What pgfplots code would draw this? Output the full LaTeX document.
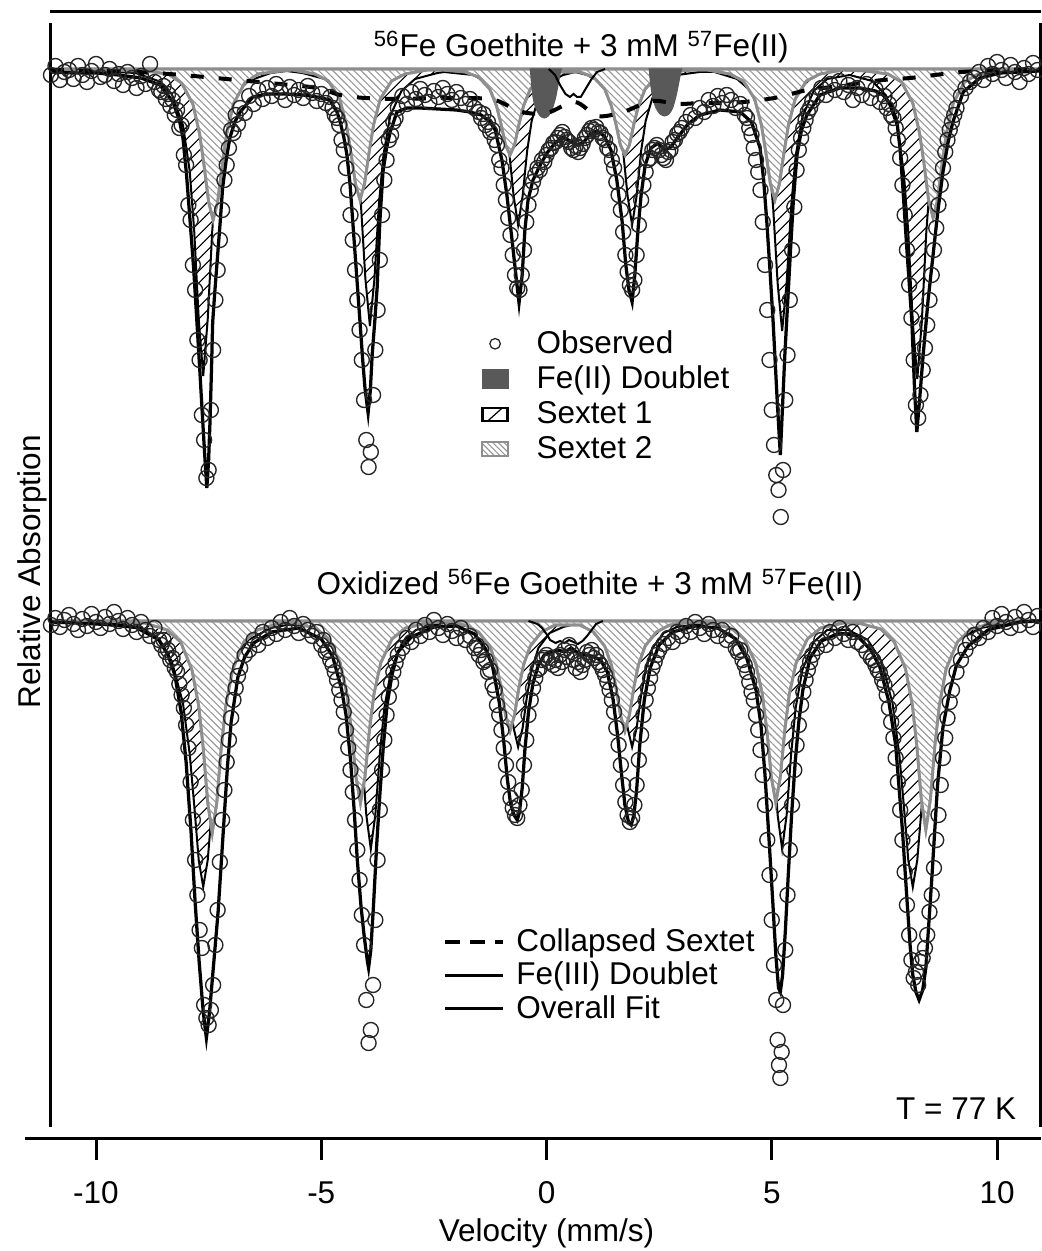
\documentclass[border=0pt]{standalone}
\usepackage{pgfplots}
\pgfplotsset{compat=1.18}
\usetikzlibrary{patterns,patterns.meta}
\usepackage{fontspec}
\setmainfont{Liberation Sans}
\definecolor{sgray}{HTML}{8E8E8E}
\definecolor{hgray}{HTML}{9A9A9A}
\definecolor{fetwo}{HTML}{595959}
\definecolor{obs}{HTML}{262626}
\newcommand\ff{\fontsize{12.65}{15}\selectfont}
\pgfplotsset{
 spec/.style={x=18.02bp, y=0.4bp, xmin=-11, xmax=10.955, ymin=-1138, ymax=-12,
   clip=false, enlargelimits=false},
 sone/.style={forget plot, draw=black, line width=0.8bp,
   pattern={Lines[angle=45,distance=3.6bp,line width=0.5bp]}, pattern color=black},
 stwo/.style={forget plot, draw=sgray, line width=1.1bp, preaction={fill=white},
   pattern={Lines[angle=-45,distance=2bp,line width=0.45bp]}, pattern color=hgray},
 fit/.style={forget plot, black, line width=1.3bp},
 thin/.style={forget plot, black, line width=0.8bp},
 obsd/.style={forget plot, only marks, mark=o, mark size=3bp, mark options={draw=obs, line width=0.55bp}},
}
\begin{document}
\begin{tikzpicture}[font=\ff]
\begin{axis}[spec,
  axis x line*=bottom, axis y line*=left, axis line style={draw=none},
  ytick=\empty, xtick={-10,-5,0,5,10}, xticklabels={-10,-5,0,5,10},
  xtick pos=left, tick align=outside, major tick length=8.8bp,
  tick style={black, line width=1.2bp},
  ticklabel style={font=\ff}, xticklabel style={yshift=-5.2bp},
  legend style={at={(axis cs:-1.455,-325)}, anchor=north west, draw=none, fill=none,
     font=\ff, inner sep=0pt, row sep=-0.4bp, column sep=9.2bp},
  legend cell align=left]

% ---------------- TOP SPECTRUM ----------------
\addplot[sone] coordinates {(-11,-69)(-10,-71)(-9.12,-73)(-8.62,-81)(-8.32,-94)(-8.07,-125)(-7.92,-171)(-7.82,-231)(-7.72,-319)(-7.62,-376)(-7.52,-319)(-7.42,-231)(-7.32,-171)(-7.17,-125)(-6.92,-94)(-6.62,-81)(-6.12,-73)(-5.77,-71)(-5.42,-73)(-4.92,-79)(-4.62,-91)(-4.37,-116)(-4.22,-155)(-4.12,-204)(-4.02,-279)(-3.92,-326)(-3.82,-279)(-3.72,-204)(-3.62,-155)(-3.47,-116)(-3.22,-91)(-2.92,-79)(-2.42,-73)(-2.27,-72)(-1.63,-75)(-1.33,-82)(-1.08,-98)(-0.93,-121)(-0.83,-151)(-0.73,-196)(-0.63,-225)(-0.53,-196)(-0.43,-151)(-0.33,-121)(-0.18,-98)(0.07,-82)(0.37,-75)(0.64,-72)(0.90,-75)(1.20,-82)(1.45,-98)(1.60,-121)(1.70,-151)(1.80,-196)(1.90,-225)(2.00,-196)(2.10,-151)(2.20,-121)(2.35,-98)(2.60,-82)(2.90,-75)(3.40,-72)(3.73,-72)(4.23,-79)(4.53,-91)(4.78,-117)(4.93,-156)(5.03,-207)(5.13,-283)(5.23,-331)(5.33,-283)(5.43,-207)(5.53,-156)(5.68,-117)(5.93,-91)(6.23,-79)(6.73,-75)(7.23,-81)(7.53,-95)(7.78,-126)(7.93,-172)(8.03,-232)(8.13,-322)(8.23,-379)(8.33,-322)(8.43,-232)(8.53,-172)(8.68,-126)(8.93,-95)(9.23,-81)(9.73,-73)(10.5,-70)(10.95,-69)} -- cycle;
\addplot[stwo] coordinates {(-11,-69)(-8.90,-71)(-8.40,-74)(-8.10,-83)(-7.85,-104)(-7.70,-134)(-7.60,-166)(-7.50,-202)(-7.40,-220)(-7.30,-202)(-7.20,-166)(-7.10,-134)(-6.95,-104)(-6.70,-83)(-6.40,-74)(-5.90,-71)(-5.64,-70)(-5.14,-74)(-4.84,-81)(-4.59,-99)(-4.44,-125)(-4.34,-153)(-4.24,-184)(-4.14,-200)(-4.04,-184)(-3.94,-153)(-3.84,-125)(-3.69,-99)(-3.44,-81)(-3.14,-74)(-2.64,-70)(-2.31,-70)(-1.81,-72)(-1.51,-77)(-1.26,-89)(-1.11,-106)(-1.01,-124)(-0.91,-145)(-0.81,-155)(-0.71,-145)(-0.61,-124)(-0.51,-106)(-0.36,-89)(-0.11,-77)(0.19,-72)(0.74,-72)(1.04,-77)(1.29,-89)(1.44,-106)(1.54,-124)(1.64,-145)(1.74,-155)(1.84,-145)(1.94,-124)(2.04,-106)(2.19,-89)(2.44,-77)(2.74,-72)(3.24,-70)(3.57,-70)(4.07,-74)(4.37,-81)(4.62,-99)(4.77,-125)(4.87,-153)(4.97,-184)(5.07,-200)(5.17,-184)(5.27,-153)(5.37,-125)(5.52,-99)(5.77,-81)(6.07,-74)(6.57,-70)(7.08,-71)(7.58,-74)(7.88,-82)(8.13,-103)(8.28,-133)(8.38,-164)(8.48,-200)(8.58,-218)(8.68,-200)(8.78,-164)(8.88,-133)(9.03,-103)(9.28,-82)(9.58,-74)(10.08,-71)(10.95,-69)} -- cycle;
\addplot[forget plot, fill=fetwo, draw=fetwo, line width=0.4bp, smooth, tension=0.4] coordinates {(-0.36,-69)(-0.33,-85)(-0.29,-100)(-0.22,-110)(-0.14,-116)(-0.05,-118)(0.04,-116)(0.12,-110)(0.20,-98)(0.26,-84)(0.31,-72)(0.33,-69)} -- cycle;
\addplot[forget plot, fill=fetwo, draw=fetwo, line width=0.4bp, smooth, tension=0.4] coordinates {(2.28,-69)(2.31,-84)(2.36,-98)(2.43,-108)(2.52,-114)(2.62,-116)(2.72,-114)(2.80,-108)(2.87,-97)(2.93,-84)(2.98,-72)(3.00,-69)} -- cycle;
\addplot[thin] coordinates {(0.05,-69)(0.19,-75)(0.30,-85)(0.42,-94)(0.52,-97)(0.60,-94)(0.68,-97)(0.76,-97)(0.88,-88)(1.00,-79)(1.12,-72)(1.30,-69)};
\addplot[forget plot, black, line width=1.6bp, dash pattern=on 5.2bp off 6bp, smooth, tension=0.5] coordinates {(-11.0,-70)(-9.91,-71)(-9.09,-72)(-8.09,-75)(-6.87,-80)(-5.92,-84)(-5.09,-88)(-4.58,-95)(-4.03,-98)(-3.25,-99)(-2.36,-98)(-1.70,-98)(-1.14,-100)(-0.54,-112)(0.01,-113)(0.63,-102)(1.14,-116)(1.70,-112)(2.34,-101)(2.92,-104)(3.41,-103)(4.07,-103)(4.58,-101)(5.18,-97)(5.78,-90)(6.34,-87)(6.96,-83)(7.47,-80)(8.07,-78)(8.62,-75)(9.22,-72)(10.07,-70)(10.95,-69)};
\addplot[fit] coordinates {(-11,-72)(-10.5,-73)(-10,-73)(-9.5,-75)(-9.0,-78)(-8.58,-85)(-8.29,-102)(-8.15,-120)(-8.07,-138)(-7.99,-175)(-7.91,-222)(-7.83,-270)(-7.76,-322)(-7.69,-375)(-7.63,-422)(-7.58,-460)(-7.54,-488)(-7.50,-460)(-7.47,-422)(-7.44,-375)(-7.41,-322)(-7.36,-290)(-7.30,-255)(-7.24,-220)(-7.19,-188)(-7.11,-160)(-7.03,-138)(-6.92,-122)(-6.80,-112)(-6.52,-97)(-6.2,-94)(-5.8,-94)(-5.4,-95)(-5.1,-97)(-4.81,-100)(-4.65,-112)(-4.58,-122)(-4.50,-137)(-4.43,-155)(-4.36,-185)(-4.30,-222)(-4.22,-272)(-4.14,-322)(-4.08,-360)(-4.03,-388)(-3.96,-413)(-3.91,-390)(-3.87,-355)(-3.81,-320)(-3.76,-288)(-3.70,-222)(-3.63,-172)(-3.55,-148)(-3.47,-132)(-3.32,-112)(-3.1,-108)(-2.8,-108)(-2.4,-109)(-2.0,-110)(-1.70,-112)(-1.45,-115)(-1.25,-122)(-1.14,-130)(-0.99,-160)(-0.88,-195)(-0.77,-238)(-0.68,-275)(-0.61,-303)(-0.54,-275)(-0.48,-230)(-0.41,-200)(-0.30,-180)(-0.14,-165)(0.01,-153)(0.19,-143)(0.37,-137)(0.52,-141)(0.68,-145)(0.81,-143)(0.97,-134)(1.12,-131)(1.28,-136)(1.43,-150)(1.56,-180)(1.68,-222)(1.76,-265)(1.83,-290)(1.90,-302)(1.96,-275)(2.03,-230)(2.10,-195)(2.19,-165)(2.32,-148)(2.48,-143)(2.63,-150)(2.76,-147)(2.92,-137)(3.14,-124)(3.41,-115)(3.85,-110)(4.30,-112)(4.55,-122)(4.74,-148)(4.82,-180)(4.89,-222)(4.96,-270)(5.03,-322)(5.12,-400)(5.19,-455)(5.24,-405)(5.29,-355)(5.35,-305)(5.41,-255)(5.48,-200)(5.56,-155)(5.66,-130)(5.78,-115)(6.07,-95)(6.51,-88)(6.96,-88)(7.3,-91)(7.47,-95)(7.65,-105)(7.78,-122)(7.85,-150)(7.91,-188)(8.0,-250)(8.11,-322)(8.17,-390)(8.22,-432)(8.29,-395)(8.36,-355)(8.47,-300)(8.58,-255)(8.69,-210)(8.80,-172)(8.91,-143)(9.02,-122)(9.25,-92)(9.62,-78)(10.07,-73)(10.5,-72)(10.95,-71)};
\addplot[obsd] coordinates {(-11.0,-75)(-10.9,-66)(-10.8,-80)(-10.7,-72)(-10.6,-70)(-10.5,-79)(-10.4,-66)(-10.3,-75)(-10.2,-82)(-10.1,-71)(-10.0,-64)(-9.9,-77)(-9.8,-75)(-9.7,-69)(-9.6,-81)(-9.5,-74)(-9.4,-85)(-9.3,-72)(-9.2,-78)(-9.1,-88)(-9.0,-76)(-8.9,-84)(-8.8,-64)(-8.7,-82)(-8.6,-90)(-8.55,-92)(-8.50,-86)(-8.45,-99)(-8.40,-94)(-8.35,-106)(-8.30,-100)(-8.25,-115)(-8.20,-110)(-8.15,-128)(-8.10,-125)(-8.05,-155)(-8.00,-165)(-7.95,-205)(-7.90,-220)(-7.85,-265)(-7.80,-290)(-7.75,-340)(-7.70,-360)(-7.65,-415)(-7.60,-440)(-7.55,-478)(-7.50,-470)(-7.45,-410)(-7.40,-350)(-7.35,-300)(-7.30,-270)(-7.25,-240)(-7.20,-210)(-7.15,-180)(-7.10,-165)(-7.05,-148)(-7.00,-130)(-6.95,-133)(-6.90,-115)(-6.85,-124)(-6.80,-108)(-6.7,-113)(-6.6,-96)(-6.5,-104)(-6.4,-90)(-6.3,-99)(-6.2,-88)(-6.1,-96)(-6.0,-84)(-5.9,-92)(-5.8,-100)(-5.7,-87)(-5.6,-95)(-5.5,-90)(-5.4,-98)(-5.3,-86)(-5.2,-93)(-5.1,-101)(-5.0,-94)(-4.9,-103)(-4.8,-97)(-4.75,-108)(-4.70,-115)(-4.65,-118)(-4.60,-125)(-4.55,-140)(-4.50,-150)(-4.45,-168)(-4.40,-190)(-4.35,-215)(-4.30,-240)(-4.25,-270)(-4.20,-300)(-4.15,-330)(-4.10,-360)(-4.05,-400)(-4.00,-440)(-3.95,-467)(-3.90,-452)(-3.85,-395)(-3.80,-350)(-3.75,-310)(-3.70,-260)(-3.65,-215)(-3.60,-180)(-3.55,-160)(-3.50,-140)(-3.45,-135)(-3.40,-122)(-3.35,-118)(-3.30,-108)(-3.2,-96)(-3.1,-104)(-3.0,-92)(-2.9,-99)(-2.8,-89)(-2.7,-95)(-2.6,-102)(-2.5,-91)(-2.4,-97)(-2.3,-88)(-2.2,-94)(-2.1,-100)(-2.0,-92)(-1.9,-98)(-1.8,-104)(-1.7,-99)(-1.6,-108)(-1.5,-112)(-1.45,-118)(-1.40,-114)(-1.35,-125)(-1.30,-122)(-1.25,-132)(-1.20,-130)(-1.15,-140)(-1.10,-145)(-1.05,-160)(-1.00,-168)(-0.95,-185)(-0.90,-200)(-0.85,-218)(-0.80,-235)(-0.75,-255)(-0.70,-275)(-0.65,-288)(-0.60,-290)(-0.55,-275)(-0.50,-250)(-0.45,-222)(-0.40,-205)(-0.35,-190)(-0.30,-182)(-0.25,-175)(-0.20,-168)(-0.15,-170)(-0.10,-160)(-0.05,-162)(0.00,-155)(0.05,-150)(0.10,-148)(0.15,-143)(0.20,-142)(0.25,-138)(0.30,-135)(0.35,-132)(0.40,-137)(0.45,-140)(0.50,-142)(0.55,-148)(0.60,-150)(0.65,-146)(0.70,-152)(0.75,-148)(0.80,-144)(0.85,-138)(0.90,-135)(0.95,-131)(1.00,-128)(1.05,-130)(1.10,-127)(1.15,-132)(1.20,-133)(1.25,-138)(1.30,-140)(1.35,-148)(1.40,-150)(1.45,-160)(1.50,-168)(1.55,-182)(1.60,-195)(1.65,-210)(1.70,-232)(1.75,-255)(1.80,-272)(1.85,-285)(1.90,-290)(1.95,-280)(2.00,-255)(2.05,-225)(2.10,-200)(2.15,-185)(2.20,-172)(2.25,-160)(2.30,-158)(2.35,-150)(2.40,-148)(2.45,-145)(2.50,-150)(2.55,-155)(2.60,-158)(2.65,-160)(2.70,-152)(2.75,-150)(2.80,-142)(2.85,-140)(2.90,-134)(2.95,-132)(3.0,-128)(3.1,-122)(3.2,-115)(3.3,-118)(3.4,-108)(3.5,-112)(3.6,-100)(3.7,-106)(3.8,-96)(3.9,-103)(4.0,-95)(4.1,-100)(4.2,-108)(4.3,-104)(4.4,-115)(4.45,-118)(4.50,-128)(4.55,-135)(4.60,-148)(4.65,-160)(4.70,-172)(4.75,-190)(4.80,-222)(4.85,-265)(4.90,-310)(4.95,-360)(5.00,-410)(5.05,-445)(5.10,-475)(5.15,-490)(5.20,-517)(5.25,-470)(5.30,-400)(5.35,-355)(5.40,-300)(5.45,-250)(5.50,-207)(5.55,-170)(5.60,-150)(5.65,-138)(5.70,-128)(5.75,-120)(5.80,-112)(5.85,-108)(5.9,-101)(6.0,-96)(6.1,-88)(6.2,-95)(6.3,-84)(6.4,-90)(6.5,-81)(6.6,-92)(6.7,-85)(6.8,-100)(6.9,-88)(7.0,-95)(7.1,-84)(7.2,-98)(7.3,-89)(7.4,-102)(7.5,-96)(7.55,-108)(7.60,-104)(7.65,-115)(7.70,-118)(7.75,-128)(7.80,-140)(7.85,-158)(7.90,-185)(7.95,-215)(8.00,-250)(8.05,-285)(8.10,-318)(8.15,-360)(8.20,-405)(8.25,-418)(8.30,-395)(8.35,-370)(8.40,-348)(8.45,-325)(8.50,-300)(8.55,-275)(8.60,-250)(8.65,-228)(8.70,-205)(8.75,-185)(8.80,-168)(8.85,-152)(8.90,-140)(8.95,-130)(9.00,-122)(9.05,-115)(9.1,-108)(9.2,-96)(9.3,-88)(9.4,-82)(9.5,-78)(9.6,-72)(9.7,-80)(9.8,-66)(9.9,-74)(10.0,-62)(10.1,-70)(10.2,-78)(10.3,-65)(10.4,-72)(10.5,-82)(10.6,-68)(10.7,-74)(10.8,-63)(10.9,-70)};

% ---------------- BOTTOM SPECTRUM ----------------
\addplot[sone] coordinates {(-11,-621)(-10,-624)(-9.12,-628)(-8.62,-640)(-8.32,-661)(-8.07,-703)(-7.92,-754)(-7.82,-805)(-7.72,-860)(-7.62,-887)(-7.52,-860)(-7.42,-805)(-7.32,-754)(-7.17,-703)(-6.92,-661)(-6.62,-640)(-6.12,-628)(-5.77,-625)(-5.40,-625)(-4.90,-630)(-4.60,-642)(-4.35,-670)(-4.20,-708)(-4.10,-754)(-4.00,-815)(-3.90,-849)(-3.80,-815)(-3.70,-754)(-3.60,-708)(-3.45,-670)(-3.20,-642)(-2.90,-630)(-2.40,-624)(-2.27,-623)(-1.63,-627)(-1.33,-633)(-1.08,-648)(-0.93,-670)(-0.83,-695)(-0.73,-728)(-0.63,-747)(-0.53,-728)(-0.43,-695)(-0.33,-670)(-0.18,-648)(0.07,-633)(0.37,-627)(0.64,-624)(0.90,-627)(1.20,-633)(1.45,-648)(1.60,-670)(1.70,-695)(1.80,-728)(1.90,-747)(2.00,-728)(2.10,-695)(2.20,-670)(2.35,-648)(2.60,-633)(2.90,-627)(3.40,-624)(3.57,-623)(3.73,-624)(4.23,-630)(4.53,-642)(4.78,-670)(4.93,-708)(5.03,-754)(5.13,-815)(5.23,-849)(5.33,-815)(5.43,-754)(5.53,-708)(5.68,-670)(5.93,-642)(6.23,-630)(6.70,-630)(7.13,-640)(7.43,-661)(7.68,-703)(7.83,-754)(7.93,-805)(8.03,-860)(8.13,-887)(8.23,-860)(8.33,-805)(8.43,-754)(8.58,-703)(8.83,-661)(9.13,-640)(9.63,-628)(10.3,-623)(10.95,-621)} -- cycle;
\addplot[stwo] coordinates {(-11,-621)(-8.92,-623)(-8.42,-630)(-8.12,-642)(-7.87,-670)(-7.72,-706)(-7.62,-748)(-7.52,-803)(-7.42,-833)(-7.32,-803)(-7.22,-748)(-7.12,-706)(-6.97,-670)(-6.72,-642)(-6.42,-630)(-5.92,-623)(-5.63,-623)(-5.13,-628)(-4.83,-639)(-4.58,-663)(-4.43,-694)(-4.33,-730)(-4.23,-777)(-4.13,-803)(-4.03,-777)(-3.93,-730)(-3.83,-694)(-3.68,-663)(-3.43,-639)(-3.13,-628)(-2.63,-623)(-2.31,-622)(-1.81,-625)(-1.51,-632)(-1.26,-646)(-1.11,-665)(-1.01,-687)(-0.91,-715)(-0.81,-731)(-0.71,-715)(-0.61,-687)(-0.51,-665)(-0.36,-646)(-0.11,-632)(0.19,-625)(0.74,-625)(1.04,-632)(1.29,-646)(1.44,-665)(1.54,-687)(1.64,-715)(1.74,-731)(1.84,-715)(1.94,-687)(2.04,-665)(2.19,-646)(2.44,-632)(2.74,-625)(3.24,-622)(3.59,-623)(4.09,-628)(4.39,-639)(4.64,-663)(4.79,-694)(4.89,-730)(4.99,-777)(5.09,-803)(5.19,-777)(5.29,-730)(5.39,-694)(5.54,-663)(5.79,-639)(6.09,-628)(6.59,-623)(6.92,-623)(7.42,-629)(7.72,-642)(7.97,-669)(8.12,-705)(8.22,-746)(8.32,-800)(8.42,-830)(8.52,-800)(8.62,-746)(8.72,-705)(8.87,-669)(9.12,-642)(9.42,-629)(9.92,-623)(10.95,-621)} -- cycle;
\addplot[thin] coordinates {(-0.4,-621)(-0.2,-624)(-0.1,-628)(0.0,-634)(0.08,-640)(0.2,-643)(0.3,-641)(0.4,-643)(0.5,-640)(0.6,-642)(0.7,-644)(0.8,-641)(0.9,-636)(1.0,-630)(1.1,-624)(1.25,-621)};
\addplot[fit] coordinates {(-11,-622)(-10,-624)(-9.5,-625)(-9.0,-628)(-8.6,-640)(-8.4,-655)(-8.25,-675)(-8.11,-712)(-8.0,-762)(-7.89,-832)(-7.80,-902)(-7.71,-962)(-7.62,-1012)(-7.55,-1038)(-7.48,-1012)(-7.40,-970)(-7.29,-912)(-7.18,-835)(-7.08,-765)(-7.0,-722)(-6.85,-677)(-6.7,-657)(-6.5,-643)(-6.1,-632)(-5.5,-628)(-5.0,-639)(-4.75,-656)(-4.55,-689)(-4.45,-715)(-4.35,-760)(-4.27,-810)(-4.2,-860)(-4.12,-905)(-4.05,-935)(-3.98,-960)(-3.95,-968)(-3.90,-950)(-3.84,-905)(-3.77,-845)(-3.70,-795)(-3.62,-745)(-3.54,-705)(-3.43,-675)(-3.30,-652)(-3.0,-637)(-2.5,-627)(-2.0,-626)(-1.6,-634)(-1.35,-649)(-1.2,-666)(-1.05,-702)(-0.95,-741)(-0.87,-779)(-0.80,-803)(-0.72,-815)(-0.65,-820)(-0.60,-812)(-0.54,-788)(-0.48,-750)(-0.40,-712)(-0.30,-683)(-0.18,-665)(-0.05,-655)(0.1,-652)(0.25,-650)(0.4,-652)(0.55,-648)(0.7,-653)(0.85,-655)(1.0,-656)(1.2,-660)(1.35,-672)(1.48,-700)(1.58,-736)(1.66,-772)(1.74,-805)(1.82,-822)(1.88,-825)(1.94,-815)(2.0,-790)(2.07,-745)(2.17,-700)(2.3,-668)(2.5,-645)(2.8,-632)(3.3,-626)(3.8,-628)(4.2,-639)(4.45,-659)(4.65,-690)(4.76,-725)(4.85,-775)(4.94,-840)(5.02,-900)(5.09,-955)(5.15,-988)(5.19,-992)(5.24,-975)(5.30,-932)(5.36,-880)(5.44,-815)(5.52,-762)(5.6,-722)(5.69,-690)(5.85,-658)(6.1,-641)(6.5,-633)(6.9,-636)(7.2,-650)(7.4,-667)(7.6,-702)(7.75,-745)(7.9,-830)(8.0,-899)(8.07,-945)(8.13,-975)(8.2,-992)(8.27,-1000)(8.35,-990)(8.42,-968)(8.55,-880)(8.68,-785)(8.8,-727)(8.95,-691)(9.1,-665)(9.36,-646)(9.8,-630)(10.5,-622)(10.95,-621)};
\addplot[obsd] coordinates {(-11.0,-625)(-10.9,-618)(-10.8,-627)(-10.7,-620)(-10.6,-615)(-10.5,-624)(-10.4,-630)(-10.3,-619)(-10.2,-626)(-10.1,-614)(-10.0,-622)(-9.9,-628)(-9.8,-617)(-9.7,-624)(-9.6,-612)(-9.5,-621)(-9.4,-629)(-9.3,-618)(-9.2,-625)(-9.1,-632)(-9.0,-622)(-8.9,-630)(-8.8,-636)(-8.7,-628)(-8.6,-640)(-8.55,-645)(-8.50,-640)(-8.45,-652)(-8.40,-650)(-8.35,-660)(-8.30,-658)(-8.25,-668)(-8.20,-672)(-8.15,-684)(-8.10,-695)(-8.05,-708)(-8.00,-725)(-7.95,-748)(-7.90,-782)(-7.85,-820)(-7.80,-860)(-7.75,-895)(-7.70,-930)(-7.65,-948)(-7.60,-1005)(-7.55,-1018)(-7.50,-1025)(-7.45,-1010)(-7.40,-985)(-7.35,-945)(-7.30,-910)(-7.25,-862)(-7.20,-820)(-7.15,-790)(-7.10,-762)(-7.05,-740)(-7.00,-718)(-6.95,-700)(-6.90,-688)(-6.85,-676)(-6.80,-668)(-6.7,-655)(-6.6,-650)(-6.5,-640)(-6.4,-645)(-6.3,-632)(-6.2,-638)(-6.1,-628)(-6.0,-634)(-5.9,-622)(-5.8,-630)(-5.7,-618)(-5.6,-626)(-5.5,-633)(-5.4,-624)(-5.3,-630)(-5.2,-636)(-5.1,-632)(-5.0,-645)(-4.95,-640)(-4.90,-652)(-4.85,-650)(-4.80,-660)(-4.75,-665)(-4.70,-672)(-4.65,-680)(-4.60,-690)(-4.55,-700)(-4.50,-712)(-4.45,-730)(-4.40,-748)(-4.35,-770)(-4.30,-792)(-4.25,-820)(-4.20,-850)(-4.15,-880)(-4.10,-915)(-4.05,-945)(-4.00,-1000)(-3.95,-1043)(-3.90,-1030)(-3.85,-985)(-3.80,-920)(-3.75,-860)(-3.70,-810)(-3.65,-770)(-3.60,-740)(-3.55,-715)(-3.50,-697)(-3.45,-683)(-3.40,-672)(-3.35,-663)(-3.30,-655)(-3.2,-648)(-3.1,-638)(-3.0,-642)(-2.9,-630)(-2.8,-636)(-2.7,-625)(-2.6,-632)(-2.5,-620)(-2.4,-628)(-2.3,-635)(-2.2,-624)(-2.1,-631)(-2.0,-638)(-1.9,-628)(-1.8,-640)(-1.7,-636)(-1.6,-648)(-1.55,-645)(-1.50,-655)(-1.45,-650)(-1.40,-662)(-1.35,-660)(-1.30,-672)(-1.25,-670)(-1.20,-685)(-1.15,-690)(-1.10,-705)(-1.05,-715)(-1.00,-730)(-0.95,-748)(-0.90,-765)(-0.85,-782)(-0.80,-798)(-0.75,-808)(-0.70,-815)(-0.65,-818)(-0.60,-805)(-0.55,-790)(-0.50,-765)(-0.45,-740)(-0.40,-715)(-0.35,-700)(-0.30,-688)(-0.25,-678)(-0.20,-670)(-0.15,-668)(-0.10,-660)(-0.05,-658)(0.00,-655)(0.05,-662)(0.10,-658)(0.15,-665)(0.20,-660)(0.25,-668)(0.30,-655)(0.35,-662)(0.40,-650)(0.45,-657)(0.50,-645)(0.55,-652)(0.60,-660)(0.65,-668)(0.70,-662)(0.75,-672)(0.80,-665)(0.85,-660)(0.90,-652)(0.95,-655)(1.00,-650)(1.05,-658)(1.10,-655)(1.15,-662)(1.20,-665)(1.25,-670)(1.30,-675)(1.35,-682)(1.40,-690)(1.45,-700)(1.50,-712)(1.55,-728)(1.60,-745)(1.65,-765)(1.70,-785)(1.75,-802)(1.80,-815)(1.85,-822)(1.90,-818)(1.95,-805)(2.00,-785)(2.05,-760)(2.10,-735)(2.15,-715)(2.20,-700)(2.25,-688)(2.30,-678)(2.35,-668)(2.40,-662)(2.45,-655)(2.5,-650)(2.6,-644)(2.7,-638)(2.8,-642)(2.9,-632)(3.0,-636)(3.1,-626)(3.2,-632)(3.3,-622)(3.4,-628)(3.5,-634)(3.6,-624)(3.7,-630)(3.8,-636)(3.9,-630)(4.0,-640)(4.1,-636)(4.2,-648)(4.25,-652)(4.30,-650)(4.35,-660)(4.40,-665)(4.45,-672)(4.50,-682)(4.55,-692)(4.60,-700)(4.65,-715)(4.70,-730)(4.75,-750)(4.80,-775)(4.85,-805)(4.90,-840)(4.95,-875)(5.00,-920)(5.05,-965)(5.10,-1000)(5.13,-1040)(5.16,-1065)(5.19,-1078)(5.22,-1052)(5.25,-1005)(5.30,-950)(5.35,-895)(5.40,-850)(5.45,-805)(5.50,-770)(5.55,-745)(5.60,-725)(5.65,-705)(5.70,-692)(5.75,-680)(5.80,-670)(5.85,-662)(5.9,-655)(6.0,-648)(6.1,-640)(6.2,-645)(6.3,-632)(6.4,-638)(6.5,-628)(6.6,-634)(6.7,-640)(6.8,-632)(6.9,-642)(7.0,-645)(7.1,-652)(7.2,-658)(7.25,-660)(7.30,-665)(7.35,-670)(7.40,-673)(7.45,-680)(7.50,-685)(7.55,-695)(7.60,-708)(7.65,-722)(7.70,-738)(7.75,-758)(7.80,-782)(7.85,-810)(7.90,-840)(7.95,-872)(8.00,-905)(8.05,-935)(8.10,-960)(8.15,-978)(8.20,-972)(8.25,-985)(8.30,-962)(8.35,-958)(8.40,-948)(8.45,-935)(8.50,-912)(8.55,-895)(8.60,-868)(8.65,-840)(8.70,-815)(8.75,-785)(8.80,-758)(8.85,-738)(8.90,-718)(8.95,-702)(9.00,-690)(9.1,-672)(9.2,-660)(9.3,-650)(9.4,-642)(9.5,-635)(9.6,-638)(9.7,-628)(9.8,-632)(9.9,-618)(10.0,-626)(10.1,-614)(10.2,-622)(10.3,-628)(10.4,-617)(10.5,-625)(10.6,-612)(10.7,-620)(10.8,-627)(10.9,-616)};

% ---------------- legend 1 ----------------
\addlegendimage{only marks, mark=o, mark size=2.1bp, mark options={draw=obs, line width=0.5bp}}
\addlegendentry{Observed}
\addlegendimage{legend image code/.code={\fill[fetwo] (3.3bp,-3.8bp) rectangle (13.7bp,3.8bp);}}
\addlegendentry{Fe(II) Doublet}
\addlegendimage{legend image code/.code={\draw[line width=1.1bp] (3.6bp,-2.6bp) rectangle (13.4bp,2.6bp); \draw[line width=0.5bp] (5.6bp,-2.6bp) -- (11.4bp,2.6bp);}}
\addlegendentry{Sextet 1}
\addlegendimage{legend image code/.code={\draw[sgray, line width=1bp, pattern={Lines[angle=-45,distance=1.6bp,line width=0.45bp]}, pattern color=hgray] (3.3bp,-2.8bp) rectangle (13.7bp,2.8bp);}}
\addlegendentry{Sextet 2}

% ---------------- frame and text ----------------
\draw[line width=1.2bp] (axis cs:-11.02,-12) -- (axis cs:10.977,-12);
\draw[line width=1.2bp] (axis cs:-11,-23) -- (axis cs:-11,-1127);
\draw[line width=1.2bp] (axis cs:10.955,-23) -- (axis cs:10.955,-1127);
\draw[line width=1.2bp] (axis cs:-11.58,-1138) -- (axis cs:10.977,-1138);
\node[anchor=base] at (axis cs:0.77,-57) {\textsuperscript{56}Fe Goethite + 3 mM \textsuperscript{57}Fe(II)};
\node[anchor=base] at (axis cs:0.96,-595) {Oxidized \textsuperscript{56}Fe Goethite + 3 mM \textsuperscript{57}Fe(II)};
\node[anchor=base east] at (axis cs:10.62,-1120) {T = 77 K};
\node[anchor=base, rotate=90] at (axis cs:-11.24,-572) {Relative Absorption};
\node[anchor=base] at (axis cs:0,-1242) {Velocity (mm/s)};
\coordinate (bbsw) at (axis cs:-12.131,-1251);
\coordinate (bbne) at (axis cs:10.977,0);
\end{axis}
\begin{axis}[spec, hide axis,
  legend style={at={(axis cs:-2.30,-923)}, anchor=north west, draw=none, fill=none,
     font=\ff, inner sep=0pt, row sep=-1.2bp, column sep=2.4bp},
  legend cell align=left]
\addlegendimage{legend image code/.code={\draw[black, line width=1.6bp, dash pattern=on 6bp off 4bp] (0bp,0bp) -- (23.2bp,0bp);}}
\addlegendentry{Collapsed Sextet}
\addlegendimage{legend image code/.code={\draw[black, line width=1bp] (0bp,0bp) -- (23.2bp,0bp);}}
\addlegendentry{Fe(III) Doublet}
\addlegendimage{legend image code/.code={\draw[black, line width=1.1bp] (0bp,0bp) -- (23.2bp,0bp);}}
\addlegendentry{Overall Fit}
\end{axis}
\pgfresetboundingbox
\path[use as bounding box] (bbsw) rectangle (bbne);
\end{tikzpicture}
\end{document}
